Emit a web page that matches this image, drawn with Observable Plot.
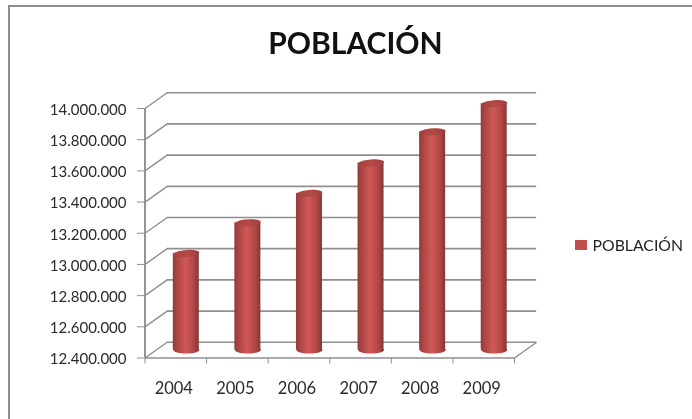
<!DOCTYPE html>
<html>
<head>
<meta charset="utf-8">
<script src="https://cdn.jsdelivr.net/npm/d3@7"></script>
<script src="https://cdn.jsdelivr.net/npm/@observablehq/plot@0.6"></script>
<style>
html,body{margin:0;padding:0;background:#fff;}
#wrap{position:relative;width:692px;height:419px;overflow:hidden;font-family:Lato,sans-serif;color:#222;filter:blur(0.35px);}
#frame{position:absolute;left:8px;top:5px;right:-5px;bottom:-5px;border-left:2.5px solid #8e8e8e;border-top:2.5px solid #8e8e8e;}
#title{position:relative;height:70px;box-sizing:border-box;padding-top:20px;padding-left:19px;text-align:center;font-size:30px;line-height:44px;font-weight:700;color:#111;}
#legend{position:absolute;left:575px;top:237px;display:flex;align-items:center;font-size:15.8px;line-height:16px;color:#222;}
#legend i{display:block;width:12px;height:10.5px;background:#c0504d;margin-right:5.5px;}
#chart svg{display:block;}
</style>
</head>
<body>
<div id="wrap">
<div id="frame"></div>
<div id="title">POBLACIÓN</div>
<div id="chart"></div>
<div id="legend"><i></i><span>POBLACIÓN</span></div>
</div>
<script>
const years = [2004, 2005, 2006, 2007, 2008, 2009];
const values = [13020000, 13216000, 13405000, 13600000, 13800000, 13980000];
const yTicks = [12400000, 12600000, 12800000, 13000000, 13200000, 13400000, 13600000, 13800000, 14000000];
const xEdges = [2003.5, 2004.5, 2005.5, 2006.5, 2007.5, 2008.5, 2009.5];
const seriesName = "POBLACIÓN";

const rows = years.map((year, i) => ({year, value: values[i], series: seriesName}));
const yBase = yTicks[0];
const xStart = xEdges[0], xEnd = xEdges[xEdges.length - 1];
// depth of the pseudo-3D box, in data units
const depthX = 0.36, depthY = 101000;
const barHalf = 0.211;
const gridStroke = "#8f8f8f";

const fmt = d => d3.format(",")(d).replace(/,/g, ".");

// ellipse drawn as a custom Plot symbol, optionally tilted
const ellipseSymbol = (t) => ({
  draw(ctx, size) {
    const a = Math.sqrt(size / Math.PI), b = a * 0.27, k = 0.5523;
    const R = (x, y) => [x * Math.cos(t) - y * Math.sin(t), x * Math.sin(t) + y * Math.cos(t)];
    const C = (p, q, r) => ctx.bezierCurveTo(...R(...p), ...R(...q), ...R(...r));
    ctx.moveTo(...R(a, 0));
    C([a, k * b], [k * a, b], [0, b]);
    C([-k * a, b], [-a, k * b], [-a, 0]);
    C([-a, -k * b], [-k * a, -b], [0, -b]);
    C([k * a, -b], [a, -k * b], [a, 0]);
    ctx.closePath();
  }
});

const gradients = () => {
  const defs = d3.create("svg:defs");
  const g = defs.append("linearGradient").attr("id", "cyl");
  [[0, "#8f3b39"], [0.14, "#aa4442"], [0.48, "#d05957"], [0.8, "#b04745"], [1, "#843533"]]
    .forEach(([o, c]) => g.append("stop").attr("offset", o).attr("stop-color", c));
  const t = defs.append("linearGradient").attr("id", "cap");
  [[0, "#a64240"], [0.5, "#b34a47"], [1, "#a04040"]]
    .forEach(([o, c]) => t.append("stop").attr("offset", o).attr("stop-color", c));
  return defs.node();
};

const offs = {dx: 10.5, dy: -7.9};
const W = 692, H = 349;
const chart = Plot.plot({
  width: W,
  height: H,
  marginLeft: 144.5,
  marginRight: 178,
  marginTop: 38,
  marginBottom: 61.5,
  style: {fontFamily: "Lato, sans-serif", background: "transparent", overflow: "visible"},
  x: {domain: [xStart, xEnd], label: null},
  y: {domain: [yBase, yTicks[yTicks.length - 1]], label: null},
  marks: [
    gradients,
    // back wall gridlines
    Plot.ruleY(yTicks, {y: d => d + depthY, x1: xStart + depthX, x2: xEnd + depthX, stroke: gridStroke, strokeWidth: 1.7}),
    // left wall slants
    Plot.link(yTicks, {x1: xStart, x2: xStart + depthX, y1: d => d, y2: d => d + depthY, stroke: gridStroke, strokeWidth: 1.4}),
    // floor right slant and front edges
    Plot.link([yBase], {x1: xEnd, x2: xEnd + depthX, y1: d => d, y2: d => d + depthY, stroke: gridStroke, strokeWidth: 1.4}),
    Plot.ruleY([yBase], {x1: xStart, x2: xEnd, stroke: gridStroke, strokeWidth: 1.7}),
    Plot.ruleX([xStart], {y1: yBase, y2: yTicks[yTicks.length - 1], stroke: gridStroke, strokeWidth: 1.9}),
    Plot.axisY({ticks: yTicks, tickSize: 7.5, tickFormat: () => "", stroke: gridStroke, label: null}),
    Plot.axisY({ticks: yTicks, tickFormat: fmt, tickSize: 0, tickPadding: 18.5, fill: "#2a2a2a", fontSize: 15, dy: 1.5, label: null}),
    Plot.axisX({ticks: xEdges, tickSize: 6, tickFormat: () => "", stroke: gridStroke, label: null}),
    Plot.axisX({ticks: years, tickSize: 0, tickPadding: 24, tickFormat: d => String(d), fill: "#2a2a2a", fontSize: 16.5, dx: -2, label: null}),
    // cylinders
    Plot.dot(rows, {x: "year", y: () => yBase, r: 13, symbol: ellipseSymbol(0), fill: "url(#cyl)", stroke: "none", ...offs}),
    Plot.rectY(rows, {x1: d => d.year - barHalf, x2: d => d.year + barHalf, y1: () => yBase, y2: "value", fill: "url(#cyl)", ...offs}),
    Plot.dot(rows, {x: "year", y: "value", r: 13, symbol: ellipseSymbol(-0.07), fill: "url(#cap)", stroke: "none", ...offs})
  ]
});
document.getElementById("chart").appendChild(chart);
</script>
</body>
</html>
